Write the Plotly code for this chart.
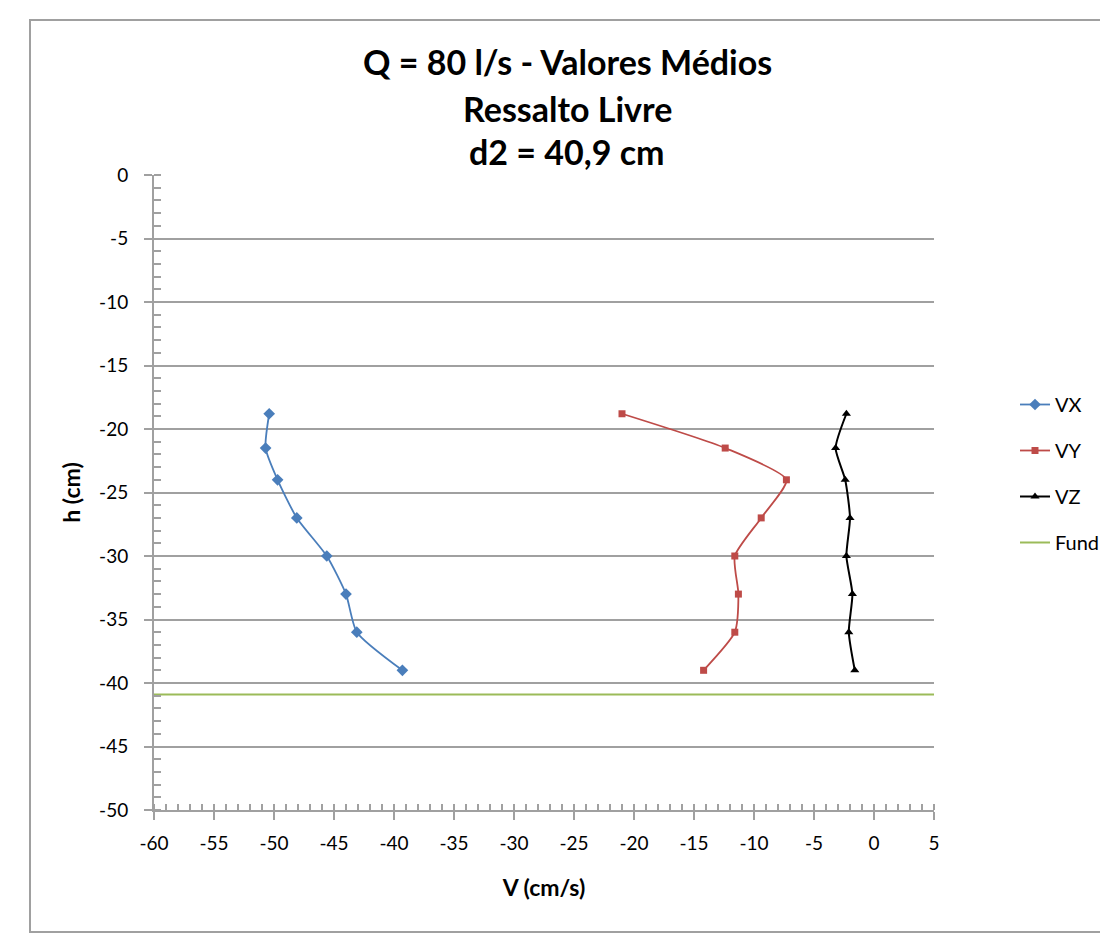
import plotly.graph_objects as go

# Data (h in cm, V in cm/s)
h_vals = [-18.8, -21.5, -24.0, -27.0, -30.0, -33.0, -36.0, -39.0]
vx = [-50.4, -50.7, -49.7, -48.1, -45.6, -44.0, -43.1, -39.3]
vy = [-21.0, -12.4, -7.3, -9.4, -11.6, -11.3, -11.6, -14.2]
vz = [-2.3, -3.2, -2.4, -2.0, -2.3, -1.8, -2.1, -1.6]
fund_x = [-60, 5]
fund_h = [-40.9, -40.9]

x_tickvals = [-60, -55, -50, -45, -40, -35, -30, -25, -20, -15, -10, -5, 0, 5]
x_ticktext = ["-60", "-55", "-50", "-45", "-40", "-35", "-30", "-25", "-20", "-15", "-10", "-5", "0", "5"]
y_tickvals = [0, -5, -10, -15, -20, -25, -30, -35, -40, -45, -50]
y_ticktext = ["0", "-5", "-10", "-15", "-20", "-25", "-30", "-35", "-40", "-45", "-50"]

title_lines = ["Q = 80 l/s - Valores Médios", "Ressalto Livre", "d2 = 40,9 cm"]

FONT = "Lato"
GRID = "#a0a0a0"

fig = go.Figure()
fig.add_trace(go.Scatter(x=vx, y=h_vals, name="VX", mode="lines+markers",
                         line=dict(color="#4A7EBB", width=1.8, shape="spline", smoothing=0.6),
                         marker=dict(symbol="diamond", size=9, color="#4A7EBB"),
                         legendgroup="a"))
fig.add_trace(go.Scatter(x=vy, y=h_vals, name="VY", mode="lines+markers",
                         line=dict(color="#BE4B48", width=1.8, shape="spline", smoothing=0.6),
                         marker=dict(symbol="square", size=7, color="#BE4B48"),
                         legendgroup="b"))
fig.add_trace(go.Scatter(x=vz, y=h_vals, name="VZ", mode="lines+markers",
                         line=dict(color="#000000", width=2, shape="spline", smoothing=0.6),
                         marker=dict(symbol="triangle-up", size=8, color="#000000"),
                         legendgroup="c"))
fig.add_trace(go.Scatter(x=fund_x, y=fund_h, name="Fund", mode="lines",
                         line=dict(color="#9BBB59", width=2),
                         legendgroup="d"))

# page body has an 8px margin, so design coordinates are shifted by -8
W, H = 1100, 926
L, R, T, B = 146, 926, 167, 802
pw, ph = R - L, B - T

def px_x(px):
    return (px - L) / pw

def px_y(py):
    return (B - py) / ph

annotations = []
for line, ypx in zip(title_lines, [54, 100, 144]):
    annotations.append(dict(text=line, xref="paper", yref="paper",
                            x=px_x(559), y=px_y(ypx), xanchor="center", yanchor="middle",
                            showarrow=False,
                            font=dict(family=FONT, size=34, color="#000000", weight="bold")))

fig.update_layout(
    width=W, height=H,
    margin=dict(l=L, r=W - R, t=T, b=H - B, autoexpand=False),
    paper_bgcolor="white", plot_bgcolor="white",
    font=dict(family=FONT, size=19, color="#000000"),
    annotations=annotations,
    showlegend=True,
    legend=dict(x=px_x(1007), y=px_y(377), xanchor="left", yanchor="top",
                font=dict(family=FONT, size=20, color="#000000"),
                tracegroupgap=17, bgcolor="rgba(0,0,0,0)"),
    xaxis=dict(range=[-60, 5], tickmode="array", tickvals=x_tickvals, ticktext=x_ticktext,
               showgrid=False, zeroline=False,
               showline=True, linecolor=GRID, linewidth=2,
               ticks="outside", ticklen=8, tickwidth=2, tickcolor=GRID,
               ticklabelstandoff=7,
               minor=dict(dtick=1, tick0=0, ticks="inside", ticklen=6, tickwidth=1.5, tickcolor=GRID),
               tickfont=dict(family=FONT, size=19),
               title=dict(text="<b>V (cm/s)</b>", font=dict(family=FONT, size=23), standoff=27)),
    yaxis=dict(range=[-50, 0], tickmode="array", tickvals=y_tickvals, ticktext=y_ticktext,
               showgrid=True, gridcolor=GRID, gridwidth=2,
               zeroline=False, showline=True, linecolor=GRID, linewidth=2,
               ticks="outside", ticklen=8, tickwidth=2, tickcolor=GRID,
               ticklabelstandoff=12,
               minor=dict(dtick=1, tick0=0, ticks="inside", ticklen=7, tickwidth=1.5, tickcolor=GRID,
                          showgrid=False),
               tickfont=dict(family=FONT, size=19),
               title=dict(text="<b>h (cm)</b>", font=dict(family=FONT, size=23), standoff=12)),
    shapes=[dict(type="rect", xref="paper", yref="paper",
                 x0=px_x(22), x1=px_x(1110), y0=px_y(924), y1=px_y(12),
                 line=dict(color="#a0a0a0", width=2), fillcolor="rgba(0,0,0,0)", layer="below")],
)

fig.write_html("out.html")
